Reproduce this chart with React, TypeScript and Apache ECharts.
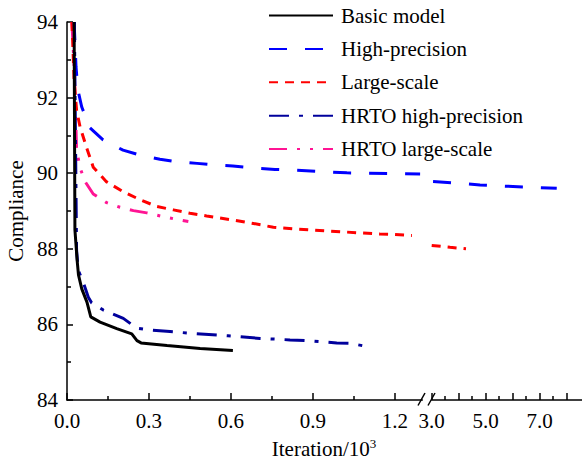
import React, { useEffect, useRef } from 'react';
import * as echarts from 'echarts';

type Pt = [number, number];

const seriesNames = ['Basic model', 'High-precision', 'Large-scale', 'HRTO high-precision', 'HRTO large-scale'];
const seriesColors = ['#000000', '#0000ff', '#ff0000', '#00009c', '#ff1493'];

const basicModel: Pt[] = [
  [0.026, 94.0], [0.029, 88.5], [0.037, 87.7], [0.042, 87.31], [0.054, 86.94], [0.073, 86.59],
  [0.087, 86.2], [0.121, 86.06], [0.182, 85.89], [0.237, 85.75], [0.256, 85.57], [0.271, 85.51],
  [0.366, 85.44], [0.487, 85.36], [0.607, 85.31],
];

// High-precision, left of the axis break
const highPrecisionLeft: Pt[] = [
  [0.026, 94.0], [0.033, 92.81], [0.04, 92.2], [0.054, 91.75], [0.084, 91.2], [0.132, 90.88],
  [0.205, 90.61], [0.267, 90.48], [0.34, 90.37], [0.402, 90.3], [0.476, 90.26], [0.534, 90.22],
  [0.607, 90.19], [0.695, 90.13], [0.761, 90.1], [0.831, 90.08], [1.024, 90.01], [1.098, 90.0],
  [1.292, 89.98],
];
// High-precision, right of the axis break
const highPrecisionRight: Pt[] = [
  [3.05, 89.78], [4.79, 89.69], [5.64, 89.66], [7.63, 89.6],
];

const largeScaleLeft: Pt[] = [
  [0.018, 94.0], [0.026, 92.47], [0.035, 91.67], [0.048, 91.22], [0.072, 90.67], [0.096, 90.16],
  [0.145, 89.77], [0.206, 89.51], [0.267, 89.3], [0.328, 89.12], [0.389, 89.03], [0.45, 88.94],
  [0.511, 88.87], [0.608, 88.76], [0.682, 88.67], [0.755, 88.57], [0.84, 88.52], [1.145, 88.39],
  [1.193, 88.38], [1.262, 88.35],
];
const largeScaleRight: Pt[] = [
  [3.0, 88.09], [3.68, 88.04], [4.27, 88.0],
];

const hrtoHighPrecision: Pt[] = [
  [0.027, 94.0], [0.035, 87.97], [0.041, 87.44], [0.06, 87.1], [0.078, 86.72], [0.09, 86.57],
  [0.133, 86.38], [0.206, 86.16], [0.255, 85.9], [0.304, 85.85], [0.377, 85.81], [0.462, 85.76],
  [0.589, 85.7], [0.706, 85.63], [0.816, 85.59], [0.9, 85.56], [0.987, 85.51], [1.035, 85.5],
  [1.094, 85.42],
];

const hrtoLargeScale: Pt[] = [
  [0.018, 94.0], [0.026, 92.81], [0.031, 91.67], [0.035, 90.61], [0.048, 90.14], [0.066, 89.78],
  [0.096, 89.45], [0.145, 89.22], [0.194, 89.1], [0.243, 89.01], [0.292, 88.95], [0.352, 88.85],
  [0.413, 88.76], [0.444, 88.72],
];

const xLabelsLeft = [0, 0.3, 0.6, 0.9, 1.2];
const xMinorLeft = [0.15, 0.45, 0.75, 1.05];
const xMajorRight = [3, 4, 5, 6, 7, 8];
const xMinorRight = [3.5, 4.5, 5.5, 6.5, 7.5];
const xLabelsRight = [3, 5, 7];

const FONT = "'Liberation Serif', 'Times New Roman', serif";

const dashes: (number[] | 'solid')[] = [
  'solid',
  [18, 18],
  [9, 7],
  [20, 10, 4, 10],
  [18, 10, 3, 10, 3, 10],
];

export default function App() {
  const ref = useRef<HTMLDivElement>(null);
  useEffect(() => {
    if (!ref.current) return;
    const chart = echarts.init(ref.current, undefined, { renderer: 'svg' });
    const axisLineStyle = { color: '#000', width: 1.5 };
    const labelStyle = { fontSize: 21, fontFamily: FONT, color: '#000' };

    const mkSeries = (idx: number, data: Pt[], grid: number) => ({
      type: 'line',
      name: seriesNames[idx],
      data,
      xAxisIndex: grid === 0 ? 0 : 2,
      yAxisIndex: grid,
      symbol: 'none',
      color: seriesColors[idx],
      lineStyle: { color: seriesColors[idx], width: 3, type: dashes[idx] },
      z: 10 - idx,
    });

    chart.setOption({
      animation: false,
      grid: [
        { left: 67, top: 22, width: 355.3, height: 378 },
        { left: 431.7, top: 22, width: 149.9, height: 378 },
      ],
      xAxis: [
        {
          gridIndex: 0, type: 'value', min: 0, max: 1.3, position: 'bottom',
          axisLine: { lineStyle: axisLineStyle },
          axisTick: { inside: true, length: 7, customValues: xLabelsLeft, lineStyle: axisLineStyle },
          axisLabel: { ...labelStyle, margin: 10, customValues: xLabelsLeft, formatter: (v: number) => v.toFixed(1) },
          splitLine: { show: false },
        },
        {
          gridIndex: 0, type: 'value', min: 0, max: 1.3, position: 'bottom', offset: 0,
          axisLine: { show: false },
          axisTick: { inside: true, length: 4, customValues: xMinorLeft, lineStyle: axisLineStyle },
          axisLabel: { show: false },
          splitLine: { show: false },
        },
        {
          gridIndex: 1, type: 'value', min: 3, max: 8.55, position: 'bottom',
          axisLine: { lineStyle: axisLineStyle },
          axisTick: { inside: true, length: 7, customValues: xMajorRight, lineStyle: axisLineStyle },
          axisLabel: { ...labelStyle, margin: 10, customValues: xLabelsRight, formatter: (v: number) => v.toFixed(1) },
          splitLine: { show: false },
        },
        {
          gridIndex: 1, type: 'value', min: 3, max: 8.55, position: 'bottom', offset: 0,
          axisLine: { show: false },
          axisTick: { inside: true, length: 4, customValues: xMinorRight, lineStyle: axisLineStyle },
          axisLabel: { show: false },
          splitLine: { show: false },
        },
      ],
      yAxis: [
        {
          gridIndex: 0, type: 'value', min: 84, max: 94, interval: 2,
          axisLine: { show: true, lineStyle: axisLineStyle },
          axisTick: { show: true, inside: true, length: 6, lineStyle: axisLineStyle },
          minorTick: { show: true, splitNumber: 2, length: 4, lineStyle: axisLineStyle },
          axisLabel: { ...labelStyle, margin: 9 },
          splitLine: { show: false },
          minorSplitLine: { show: false },
        },
        {
          gridIndex: 1, type: 'value', min: 84, max: 94, show: false,
          splitLine: { show: false },
        },
      ],
      legend: {
        orient: 'vertical',
        left: 263,
        top: 0,
        itemWidth: 64,
        itemHeight: 21,
        itemGap: 12.4,
        selectedMode: false,
        data: seriesNames,
        itemStyle: { opacity: 0, borderWidth: 0 },
        textStyle: { ...labelStyle, padding: [0, 0, 0, 3] },
      },
      graphic: [
        { type: 'line', shape: { x1: 418, y1: 405.5, x2: 425, y2: 393 }, style: { stroke: '#000', lineWidth: 1.5 } },
        { type: 'line', shape: { x1: 428, y1: 405.5, x2: 435, y2: 393 }, style: { stroke: '#000', lineWidth: 1.5 } },
        {
          type: 'text', x: 16, y: 211, rotation: Math.PI / 2,
          style: { text: 'Compliance', font: `21px ${FONT}`, fill: '#000', align: 'center', verticalAlign: 'middle' },
        },
        {
          type: 'text', x: 324, y: 449,
          style: {
            text: '{a|Iteration/10}{b|3}',
            align: 'center', verticalAlign: 'middle', fill: '#000',
            rich: {
              a: { fontSize: 21, fontFamily: FONT, fill: '#000', lineHeight: 24 },
              b: { fontSize: 13, fontFamily: FONT, fill: '#000', verticalAlign: 'top', lineHeight: 24 },
            },
          },
        },
      ],
      series: [
        mkSeries(0, basicModel, 0),
        mkSeries(1, highPrecisionLeft, 0),
        mkSeries(1, highPrecisionRight, 1),
        mkSeries(2, largeScaleLeft, 0),
        mkSeries(2, largeScaleRight, 1),
        mkSeries(3, hrtoHighPrecision, 0),
        mkSeries(4, hrtoLargeScale, 0),
      ],
    });
    return () => chart.dispose();
  }, []);
  return <div ref={ref} style={{ width: 582, height: 466, position: 'fixed', left: 0, top: 0, background: '#fff' }} />;
}
